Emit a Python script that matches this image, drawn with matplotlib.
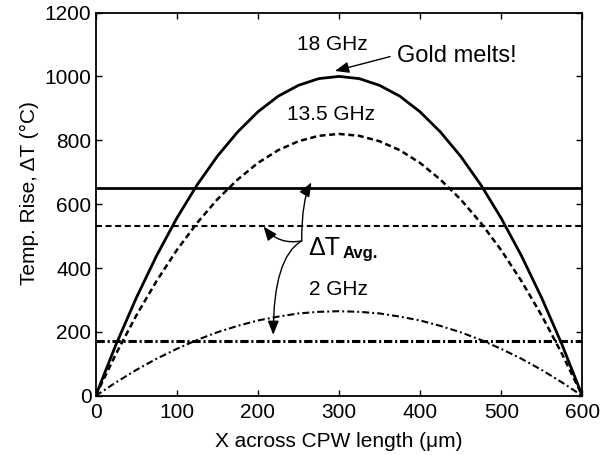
import numpy as np
import matplotlib
matplotlib.use("Agg")
import matplotlib.pyplot as plt

plt.rcParams['font.family'] = ['Liberation Sans', 'DejaVu Sans']
plt.rcParams['font.size'] = 15
plt.rcParams['lines.scale_dashes'] = False

# Posicion a lo largo de la CPW (um)
x_um = [0, 25, 50, 75, 100, 125, 150, 175, 200, 225, 250, 275, 300,
        325, 350, 375, 400, 425, 450, 475, 500, 525, 550, 575, 600]

# Aumento de temperatura (C)
dT_18ghz = [0, 160, 306, 438, 556, 660, 750, 826, 889, 938, 972, 993, 1000,
            993, 972, 938, 889, 826, 750, 660, 556, 438, 306, 160, 0]
dT_135ghz = [0, 131, 251, 359, 456, 541, 615, 677, 729, 769, 797, 814, 820,
             814, 797, 769, 729, 677, 615, 541, 456, 359, 251, 131, 0]
dT_2ghz = [0, 42, 81, 116, 147, 175, 199, 219, 236, 248, 258, 263, 265,
           263, 258, 248, 236, 219, 199, 175, 147, 116, 81, 42, 0]

# Valores medios
avg_18ghz = 650
avg_135ghz = 532
avg_2ghz = 173

x_ticks = [0, 100, 200, 300, 400, 500, 600]
y_ticks = [0, 200, 400, 600, 800, 1000, 1200]

dash = (0, (4.3, 2.6))
dashdot = (0, (5.0, 2.2, 1.4, 2.2))

fig = plt.figure(figsize=(6.13, 4.55), dpi=100)
ax = fig.add_axes([0.156, 0.130, 0.794, 0.8425])

ax.plot(x_um, dT_18ghz, color='black', lw=2.0, ls='-')
ax.plot(x_um, dT_135ghz, color='black', lw=1.8, ls=dash)
ax.plot(x_um, dT_2ghz, color='black', lw=1.5, ls=dashdot)

ax.axhline(avg_18ghz, color='black', lw=2.0, ls='-')
ax.axhline(avg_135ghz, color='black', lw=1.5, ls=dash)
ax.axhline(avg_2ghz, color='black', lw=2.2, ls=(0, (6.0, 2.0, 1.5, 2.0)))

ax.set_xlim(0, 600)
ax.set_ylim(0, 1200)
ax.set_xticks(x_ticks)
ax.set_yticks(y_ticks)
ax.tick_params(direction='in', length=4, width=1.0, top=True, right=True)
ax.tick_params(axis='x', pad=5)
ax.tick_params(axis='y', pad=3)
for s in ax.spines.values():
    s.set_linewidth(1.3)

ax.set_xlabel('X across CPW length (\u03bcm)', labelpad=7)
ax.set_ylabel('Temp. Rise, \u0394T (\u00b0C)', labelpad=4)
ax.yaxis.label.set_y(0.53)

# Etiquetas de frecuencia
ax.text(292, 1082, '18 GHz', ha='center', va='baseline')
ax.text(290, 864, '13.5 GHz', ha='center', va='baseline')
ax.text(299, 316, '2 GHz', ha='center', va='baseline')
ax.text(371, 1046, 'Gold melts!', ha='left', va='baseline', fontsize=17)

arrow = dict(arrowstyle='-|>,head_length=0.7,head_width=0.28', color='black',
             lw=1.0, shrinkA=0, shrinkB=0, mutation_scale=12)
ax.annotate('', xy=(295, 1017), xytext=(363, 1062), arrowprops=arrow)

# Delta T promedio con flechas curvas
ax.text(262, 441, '\u0394T', ha='left', va='baseline', fontsize=18)
ax.text(305, 433, 'Avg.', ha='left', va='baseline', fontsize=12, fontweight='bold')

jx, jy = 254, 485
ax.annotate('', xy=(266, 668), xytext=(jx, jy),
            arrowprops=dict(arrow, connectionstyle='angle3,angleA=90,angleB=60'))
ax.annotate('', xy=(207, 530), xytext=(jx, jy),
            arrowprops=dict(arrow, connectionstyle='arc3,rad=-0.3'))
ax.annotate('', xy=(219, 191), xytext=(jx, jy),
            arrowprops=dict(arrow, connectionstyle='angle3,angleA=-150,angleB=90'))

fig.savefig('out.png', dpi=100)
